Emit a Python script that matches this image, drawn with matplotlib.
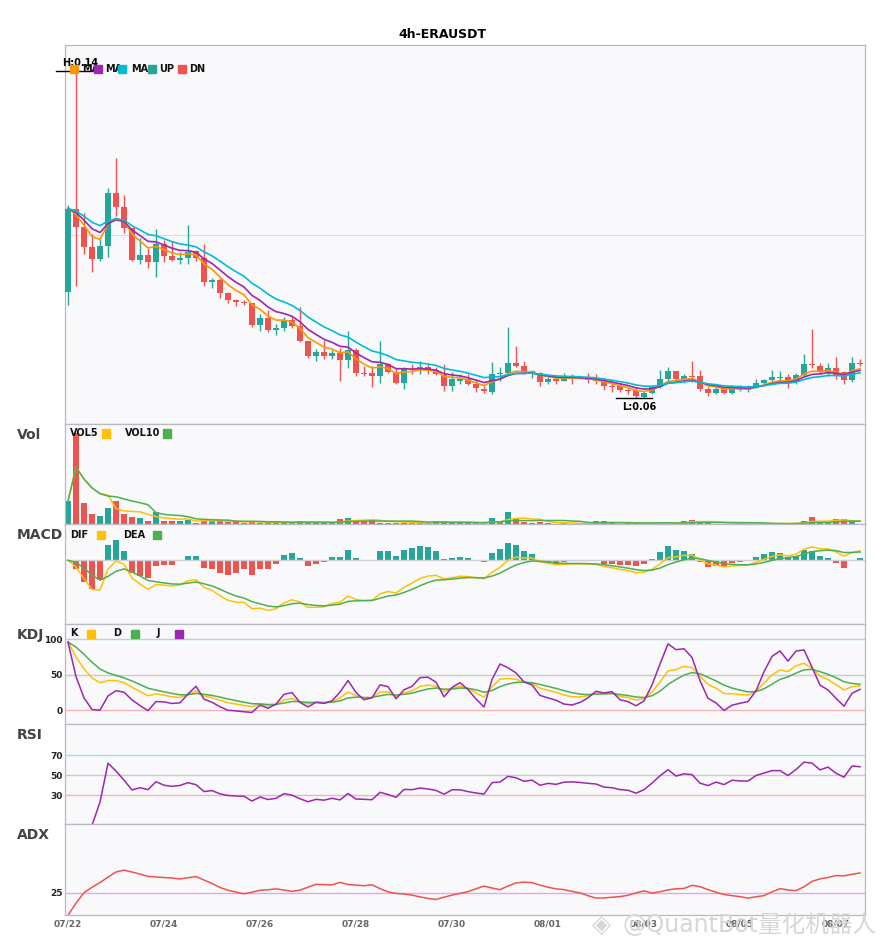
import numpy as np
import pandas as pd
import matplotlib
matplotlib.use("Agg")
import matplotlib.pyplot as plt
from matplotlib.patches import Rectangle

title_text = "4h-ERAUSDT"
start_time = "2025-07-22 00:00"
bar_freq = "4h"

opens = [0.08611, 0.10637, 0.10196, 0.09706, 0.09412, 0.09731, 0.11029, 0.10686, 0.10172, 0.09388,
         0.09510, 0.09339, 0.09780, 0.09486, 0.09388, 0.09437, 0.09608, 0.09437, 0.08849, 0.08898,
         0.08579, 0.08408, 0.08346, 0.08334, 0.07795, 0.07967, 0.07673, 0.07722, 0.07918, 0.07771,
         0.07403, 0.07036, 0.07134, 0.07036, 0.07109, 0.06938, 0.07183, 0.06619, 0.06619, 0.06546,
         0.06840, 0.06644, 0.06374, 0.06717, 0.06717, 0.06766, 0.06693, 0.06570, 0.06301, 0.06423,
         0.06472, 0.06350, 0.06227, 0.06154, 0.06595, 0.06619, 0.06864, 0.06791, 0.06619, 0.06619,
         0.06399, 0.06472, 0.06423, 0.06521, 0.06497, 0.06521, 0.06472, 0.06423, 0.06301, 0.06301,
         0.06203, 0.06203, 0.06031, 0.06129, 0.06276, 0.06472, 0.06668, 0.06472, 0.06546, 0.06546,
         0.06227, 0.06129, 0.06227, 0.06129, 0.06215, 0.06215, 0.06276, 0.06374, 0.06448, 0.06497,
         0.06521, 0.06399, 0.06570, 0.06840, 0.06791, 0.06644, 0.06742, 0.06644, 0.06448, 0.06864]

highs = [0.10735, 0.13994, 0.10539, 0.10025, 0.09902, 0.11127, 0.11862, 0.10956, 0.10172, 0.09927,
         0.09682, 0.10147, 0.09878, 0.09853, 0.09584, 0.10245, 0.09633, 0.09780, 0.08947, 0.08947,
         0.08604, 0.08432, 0.08408, 0.08334, 0.08065, 0.08163, 0.07820, 0.07991, 0.08016, 0.08236,
         0.07403, 0.07207, 0.07428, 0.07183, 0.07232, 0.07648, 0.07232, 0.06791, 0.06791, 0.07403,
         0.06864, 0.06742, 0.06766, 0.06840, 0.06913, 0.06840, 0.06766, 0.06840, 0.06644, 0.06595,
         0.06595, 0.06472, 0.06301, 0.06889, 0.06766, 0.07746, 0.07281, 0.06913, 0.06693, 0.06644,
         0.06521, 0.06546, 0.06619, 0.06595, 0.06546, 0.06619, 0.06595, 0.06497, 0.06423, 0.06374,
         0.06252, 0.06252, 0.06178, 0.06325, 0.06693, 0.06766, 0.06668, 0.06595, 0.06913, 0.06693,
         0.06276, 0.06276, 0.06276, 0.06325, 0.06325, 0.06325, 0.06472, 0.06472, 0.06693, 0.06668,
         0.06595, 0.06619, 0.07085, 0.07697, 0.06864, 0.06864, 0.07011, 0.06668, 0.07011, 0.06962]

lows = [0.08285, 0.08751, 0.09535, 0.09094, 0.09363, 0.09461, 0.10466, 0.10049, 0.09363, 0.09290,
        0.09192, 0.08971, 0.09339, 0.09363, 0.09290, 0.09290, 0.09363, 0.08751, 0.08702, 0.08457,
        0.08334, 0.08261, 0.08285, 0.07746, 0.07648, 0.07624, 0.07550, 0.07648, 0.07722, 0.07379,
        0.06987, 0.06913, 0.06962, 0.06962, 0.06423, 0.06742, 0.06546, 0.06546, 0.06276, 0.06374,
        0.06619, 0.06350, 0.06227, 0.06595, 0.06595, 0.06595, 0.06570, 0.06178, 0.06178, 0.06350,
        0.06325, 0.06154, 0.06129, 0.06105, 0.06423, 0.06595, 0.06766, 0.06595, 0.06497, 0.06301,
        0.06350, 0.06350, 0.06423, 0.06350, 0.06472, 0.06374, 0.06350, 0.06203, 0.06154, 0.06154,
        0.06105, 0.06007, 0.06007, 0.06105, 0.06252, 0.06423, 0.06399, 0.06374, 0.06399, 0.06178,
        0.06056, 0.06105, 0.06105, 0.06105, 0.06178, 0.06154, 0.06252, 0.06350, 0.06399, 0.06399,
        0.06252, 0.06350, 0.06546, 0.06742, 0.06595, 0.06546, 0.06472, 0.06350, 0.06399, 0.06791]

closes = [0.10637, 0.10196, 0.09706, 0.09412, 0.09731, 0.11029, 0.10686, 0.10172, 0.09388, 0.09510,
          0.09339, 0.09780, 0.09486, 0.09388, 0.09437, 0.09584, 0.09437, 0.08849, 0.08898, 0.08579,
          0.08408, 0.08359, 0.08322, 0.07795, 0.07967, 0.07673, 0.07722, 0.07918, 0.07771, 0.07403,
          0.07036, 0.07134, 0.07036, 0.07109, 0.06938, 0.07183, 0.06619, 0.06595, 0.06546, 0.06840,
          0.06644, 0.06374, 0.06717, 0.06693, 0.06766, 0.06693, 0.06595, 0.06301, 0.06472, 0.06472,
          0.06350, 0.06252, 0.06178, 0.06595, 0.06619, 0.06864, 0.06791, 0.06619, 0.06668, 0.06399,
          0.06472, 0.06423, 0.06497, 0.06509, 0.06484, 0.06448, 0.06423, 0.06301, 0.06276, 0.06203,
          0.06178, 0.06056, 0.06129, 0.06276, 0.06472, 0.06668, 0.06472, 0.06546, 0.06521, 0.06227,
          0.06129, 0.06227, 0.06129, 0.06252, 0.06227, 0.06227, 0.06374, 0.06448, 0.06521, 0.06521,
          0.06399, 0.06570, 0.06840, 0.06815, 0.06644, 0.06742, 0.06570, 0.06448, 0.06864, 0.06840]

volumes = [233, 910, 213, 100, 80, 160, 233, 100, 70, 60,
           33, 123, 33, 33, 33, 47, 17, 47, 33, 33,
           20, 20, 17, 37, 17, 17, 17, 17, 17, 37,
           17, 17, 17, 17, 50, 67, 37, 37, 43, 17,
           17, 17, 17, 17, 10, 10, 37, 33, 23, 13,
           10, 10, 10, 63, 33, 123, 63, 27, 13, 27,
           13, 7, 13, 7, 7, 7, 33, 33, 17, 7,
           10, 10, 7, 7, 23, 10, 10, 33, 43, 33,
           17, 3, 3, 7, 7, 7, 7, 7, 7, 10,
           10, 13, 33, 73, 20, 20, 53, 53, 33, 7]

# ---------------- indicators ----------------
o = pd.Series(opens, dtype=float)
h = pd.Series(highs, dtype=float)
l = pd.Series(lows, dtype=float)
c = pd.Series(closes, dtype=float)
v = pd.Series(volumes, dtype=float)
n = len(c)
x = np.arange(n)
dates = pd.date_range(start_time, periods=n, freq=bar_freq)

ma5 = c.ewm(span=5, adjust=False).mean()
ma8 = c.ewm(span=8, adjust=False).mean()
ma13 = c.ewm(span=13, adjust=False).mean()

vol5 = v.rolling(5, min_periods=1).mean()
vol10 = v.rolling(10, min_periods=1).mean()

dif = c.ewm(span=6, adjust=False).mean() - c.ewm(span=13, adjust=False).mean()
dea = dif.ewm(span=5, adjust=False).mean()
hist = 2 * (dif - dea)

low9 = l.rolling(9, min_periods=1).min()
high9 = h.rolling(9, min_periods=1).max()
rsv = (c - low9) / (high9 - low9) * 100
k = rsv.ewm(com=2, adjust=False).mean()
d = k.ewm(com=2, adjust=False).mean()
j = 3 * k - 2 * d

delta = c.diff()
gain = delta.clip(lower=0)
loss = (-delta).clip(lower=0)
ag = gain.ewm(com=13, adjust=True).mean()
al = loss.ewm(com=13, adjust=True).mean()
rsi = 100 * ag / (ag + al)

up = h.diff()
dn = -l.diff()
pdm = pd.Series(np.where((up > dn) & (up > 0), up, 0.0))
mdm = pd.Series(np.where((dn > up) & (dn > 0), dn, 0.0))
pc = c.shift(1)
tr = pd.concat([h - l, (h - pc).abs(), (l - pc).abs()], axis=1).max(axis=1)
atr = tr.ewm(span=14, adjust=False).mean()
pdi = 100 * pdm.ewm(span=14, adjust=False).mean() / atr
mdi = 100 * mdm.ewm(span=14, adjust=False).mean() / atr
dx = (100 * (pdi - mdi).abs() / (pdi + mdi)).fillna(0)
adx = dx.ewm(span=14, adjust=False).mean()

# ---------------- figure ----------------
UPC = "#26a69a"
DNC = "#ef5350"
BG = "#f9f9fb"
SPINE = "#b9b9c2"
W, H = 885, 950
fig = plt.figure(figsize=(W / 100, H / 100), dpi=100)
fig.patch.set_facecolor("white")
LPX, RPX = 65.3, 865.3


def ax_at(top, bottom):
    ax = fig.add_axes([LPX / W, 1 - bottom / H, (RPX - LPX) / W, (bottom - top) / H])
    ax.set_facecolor(BG)
    for s in ax.spines.values():
        s.set_color(SPINE)
        s.set_linewidth(0.9)
    ax.set_xticks([])
    ax.set_xlim(-0.34, n - 0.34)
    ax.tick_params(axis="y", length=0, pad=2, labelsize=6.5, labelcolor="#222")
    return ax


ax_p = ax_at(45, 424.3)
ax_v = ax_at(424.3, 524.3)
ax_m = ax_at(524.3, 624.3)
ax_k = ax_at(624.3, 724.3)
ax_r = ax_at(724.3, 824.3)
ax_a = ax_at(824.3, 915.3)

# price panel
lo, hi = l.min(), h.max()
rng = hi - lo
ax_p.set_yticks([0.05, 0.10, 0.15])
ax_p.tick_params(axis="y", labelleft=False)
ax_p.grid(axis="y", color="#dcdce4", lw=0.8)
ax_p.set_axisbelow(True)
colors = [UPC if cc >= oo else DNC for oo, cc in zip(o, c)]
body_lo = np.minimum(o, c)
body_h = np.maximum(np.abs(c - o), rng * 0.003)
ax_p.vlines(x, l, h, colors=colors, lw=1.0, zorder=2)
ax_p.bar(x, body_h, bottom=body_lo, width=0.67, color=colors, zorder=3, linewidth=0)
ax_p.plot(x, ma5, color="#ff9800", lw=1.2, zorder=4)
ax_p.plot(x, ma8, color="#9c27b0", lw=1.2, zorder=4)
ax_p.plot(x, ma13, color="#00bcd4", lw=1.2, zorder=4)
ax_p.set_ylim(lo - 0.0795 * rng, hi + 0.0795 * rng)
ax_p.set_xlim(-0.34, n - 0.34)

ih = int(h.idxmax())
il = int(l.idxmin())
ax_p.plot([ih - 2.5, ih + 2], [hi, hi], color="black", lw=1, clip_on=False, zorder=5)
ax_p.annotate(f"H:{hi:.2f}", (ih + 0.5, hi), xytext=(0, 2), textcoords="offset points",
              ha="center", va="bottom", fontsize=7, fontweight="bold", annotation_clip=False, zorder=6)
ax_p.plot([il - 2.5, il + 2], [lo, lo], color="black", lw=1, clip_on=False, zorder=5)
ax_p.annotate(f"L:{lo:.2f}", (il + 0.4, lo), xytext=(0, -3), textcoords="offset points",
              ha="center", va="top", fontsize=7, fontweight="bold", annotation_clip=False, zorder=6)
ax_p.set_ylim(lo - 0.0795 * rng, hi + 0.0795 * rng)
ax_p.set_xlim(-0.34, n - 0.34)

# volume
ax_v.bar(x, v, width=0.7, color=colors, linewidth=0)
ax_v.plot(x, vol5, color="#ffc107", lw=1.1)
ax_v.plot(x, vol10, color="#4caf50", lw=1.1)
ax_v.set_yticks([])
ax_v.set_ylim(0, v.max() * 1.1)

# MACD
hcol = [UPC if hv >= 0 else DNC for hv in hist]
ax_m.axhline(0, color="#cfcfd4", lw=1)
ax_m.bar(x, hist, width=0.75, color=hcol, linewidth=0)
ax_m.plot(x, dif, color="#ffc107", lw=1.1)
ax_m.plot(x, dea, color="#4caf50", lw=1.1)
mlo = min(dif.min(), dea.min(), hist.min())
ax_m.set_yticks([])
ax_m.set_ylim(mlo * 1.28, -mlo * 0.72)

# KDJ
ax_k.axhline(100, color="#a6dcd5", lw=1)
ax_k.axhline(50, color="#cacaca", lw=1)
ax_k.axhline(0, color="#f4b4b4", lw=1)
ax_k.plot(x, k, color="#ffc107", lw=1.1)
ax_k.plot(x, d, color="#4caf50", lw=1.1)
ax_k.plot(x, j, color="#9c27b0", lw=1.1)
ax_k.set_yticks([0, 50, 100])
ax_k.set_ylim(-19.7, 121.1)

# RSI
ax_r.axhline(70, color="#a6dcd5", lw=1)
ax_r.axhline(50, color="#cacaca", lw=1)
ax_r.axhline(30, color="#f4b4b4", lw=1)
ax_r.plot(x, rsi, color="#9c27b0", lw=1.1)
ax_r.set_yticks([30, 50, 70])
ax_r.set_ylim(1, 101)

# ADX
ax_a.axhline(25, color="#dfa8ea", lw=1)
ax_a.plot(x, adx, color="#ef5350", lw=1.1)
ax_a.set_yticks([25])
ax_a.set_ylim(0, 100)
tick_idx = list(range(0, n, 12))
ax_a.set_xticks(tick_idx)
ax_a.set_xticklabels([dates[i].strftime("%m/%d") for i in tick_idx])
ax_a.tick_params(axis="x", length=0, pad=3, labelsize=6.5, labelcolor="#666")

for ax in (ax_p, ax_v, ax_m, ax_k, ax_r, ax_a):
    ax.set_xlim(-0.34, n - 0.34)
for ax in (ax_k, ax_r, ax_a):
    for lab in ax.get_yticklabels():
        lab.set_fontweight("bold")
for lab in ax_a.get_xticklabels():
    lab.set_fontweight("bold")

# titles and panel labels
fig.text(0.5, 1 - 34 / H, title_text, ha="center", va="center", fontsize=9, fontweight="bold")
for name, py in [("Vol", 435), ("MACD", 535), ("KDJ", 635), ("RSI", 735), ("ADX", 835)]:
    fig.text(17 / W, 1 - py / H, name, ha="left", va="center", fontsize=10,
             fontweight="bold", color="#444")


def legend_item(label, color, tx, sx, py):
    fig.text(tx / W, 1 - py / H, label, ha="left", va="center", fontsize=7,
             fontweight="bold", color="#111", zorder=6)
    fig.add_artist(Rectangle(((sx - 4) / W, 1 - (py + 4) / H), 8 / W, 8 / H,
                             transform=fig.transFigure, color=color, zorder=7))


legend_item("MA", "#ff9800", 82, 74, 69)
legend_item("MA", "#9c27b0", 105, 98, 69)
legend_item("MA", "#00bcd4", 131, 122, 69)
legend_item("UP", UPC, 159, 152, 69)
legend_item("DN", DNC, 189, 182, 69)

legend_item("VOL5", "#ffc107", 70, 105.5, 433.5)
legend_item("VOL10", "#4caf50", 125, 166.5, 433.5)
legend_item("DIF", "#ffc107", 70, 100.5, 535)
legend_item("DEA", "#4caf50", 123, 156.5, 535)
legend_item("K", "#ffc107", 70, 91, 633.5)
legend_item("D", "#4caf50", 113, 135, 633.5)
legend_item("J", "#9c27b0", 157, 179, 633.5)

# watermark
fig.text(602 / W, 1 - 925 / H, "\u25c8", ha="center", va="center", fontsize=18,
         color="#d6d6d6", zorder=8)
fig.text(877 / W, 1 - 925 / H, "@QuantBot量化机器人", ha="right", va="center", fontsize=17,
         color="#d6d6d6", family=["DejaVu Sans", "Noto Sans CJK SC"], zorder=8)

fig.savefig("out.png", dpi=100, facecolor="white")
